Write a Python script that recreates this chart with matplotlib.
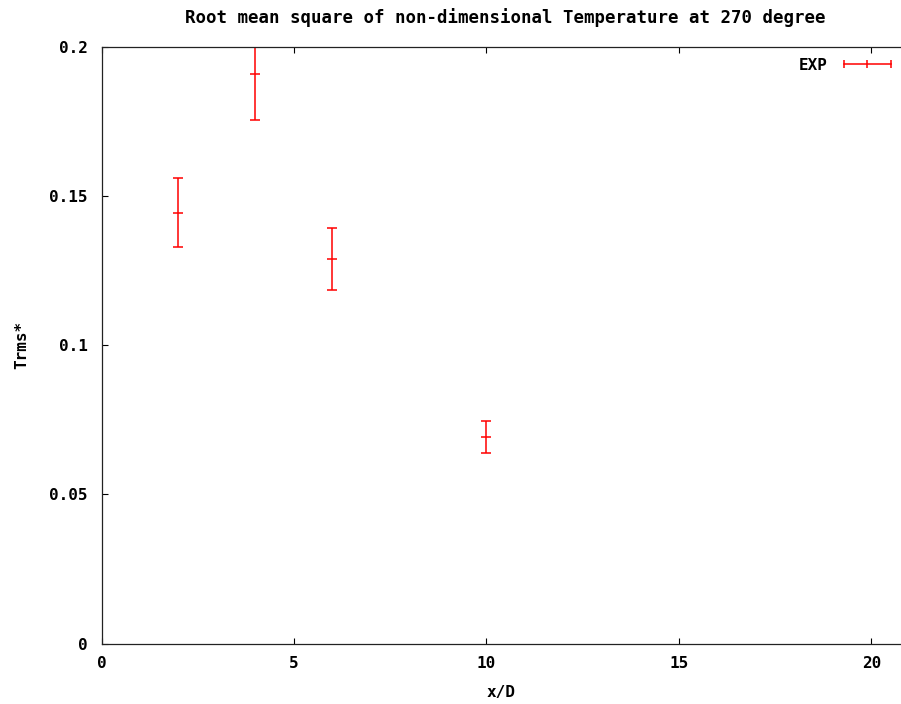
import numpy as np
import matplotlib
matplotlib.use("Agg")
import matplotlib.pyplot as plt
from matplotlib.lines import Line2D

# measured data (x/D, Trms*, error)
x_d = [2, 4, 6, 10]
trms = [0.1444, 0.1908, 0.1289, 0.0693]
err = [0.0115, 0.0155, 0.0104, 0.0054]

x_ticks = [0, 5, 10, 15, 20]
y_ticks = [0, 0.05, 0.1, 0.15, 0.2]
y_labels = ["0", "0.05", "0.1", "0.15", "0.2"]

plt.rcParams['font.family'] = ['DejaVu Sans Mono']
plt.rcParams['font.weight'] = 'bold'
plt.rcParams['font.size'] = 11

fig = plt.figure(figsize=(9.01, 7.04), dpi=100)
ax = fig.add_axes([101.5/901, 60.5/704, 1 - 101.5/901, (643.5-46.7)/704])

ax.errorbar(x_d, trms, yerr=err, fmt='none', ecolor='#ff0000',
            elinewidth=1.1, capsize=3.5, capthick=1.1, clip_on=True)
ax.plot(x_d, trms, ls='none', marker='_', ms=7, mew=1.1, color='#ff0000')

ax.set_xlim(0, 20.77)
ax.set_ylim(0, 0.2)
ax.set_xticks(x_ticks)
ax.set_yticks(y_ticks)
ax.set_yticklabels(y_labels)
ax.tick_params(direction='in', length=4, width=0.8, top=True, right=False,
               labelsize=11.5, colors='black')
ax.tick_params(axis='y', pad=10)
ax.tick_params(axis='x', pad=9)
ax.spines['right'].set_visible(False)
for s in ['left', 'bottom', 'top']:
    ax.spines[s].set_linewidth(0.9)
    ax.spines[s].set_color('#222222')

ax.set_xlabel('x/D', fontsize=11.5, fontweight='bold', labelpad=10)
ax.set_ylabel('Trms*', fontsize=11.5, fontweight='bold', labelpad=14)
ax.set_title('Root mean square of non-dimensional Temperature at 270 degree',
             fontsize=12.5, fontweight='bold', pad=17, x=0.505)

handle = Line2D([], [], color='#ff0000', lw=1.1, marker='|', ms=6, mew=1.1)
ax.legend([handle], ['EXP'], loc='upper right', frameon=False, numpoints=3,
          markerfirst=False, handlelength=3.6, fontsize=11.5,
          bbox_to_anchor=(1.008, 1.0), borderaxespad=0.3, handletextpad=0.7)

fig.savefig("out.png", dpi=100)
